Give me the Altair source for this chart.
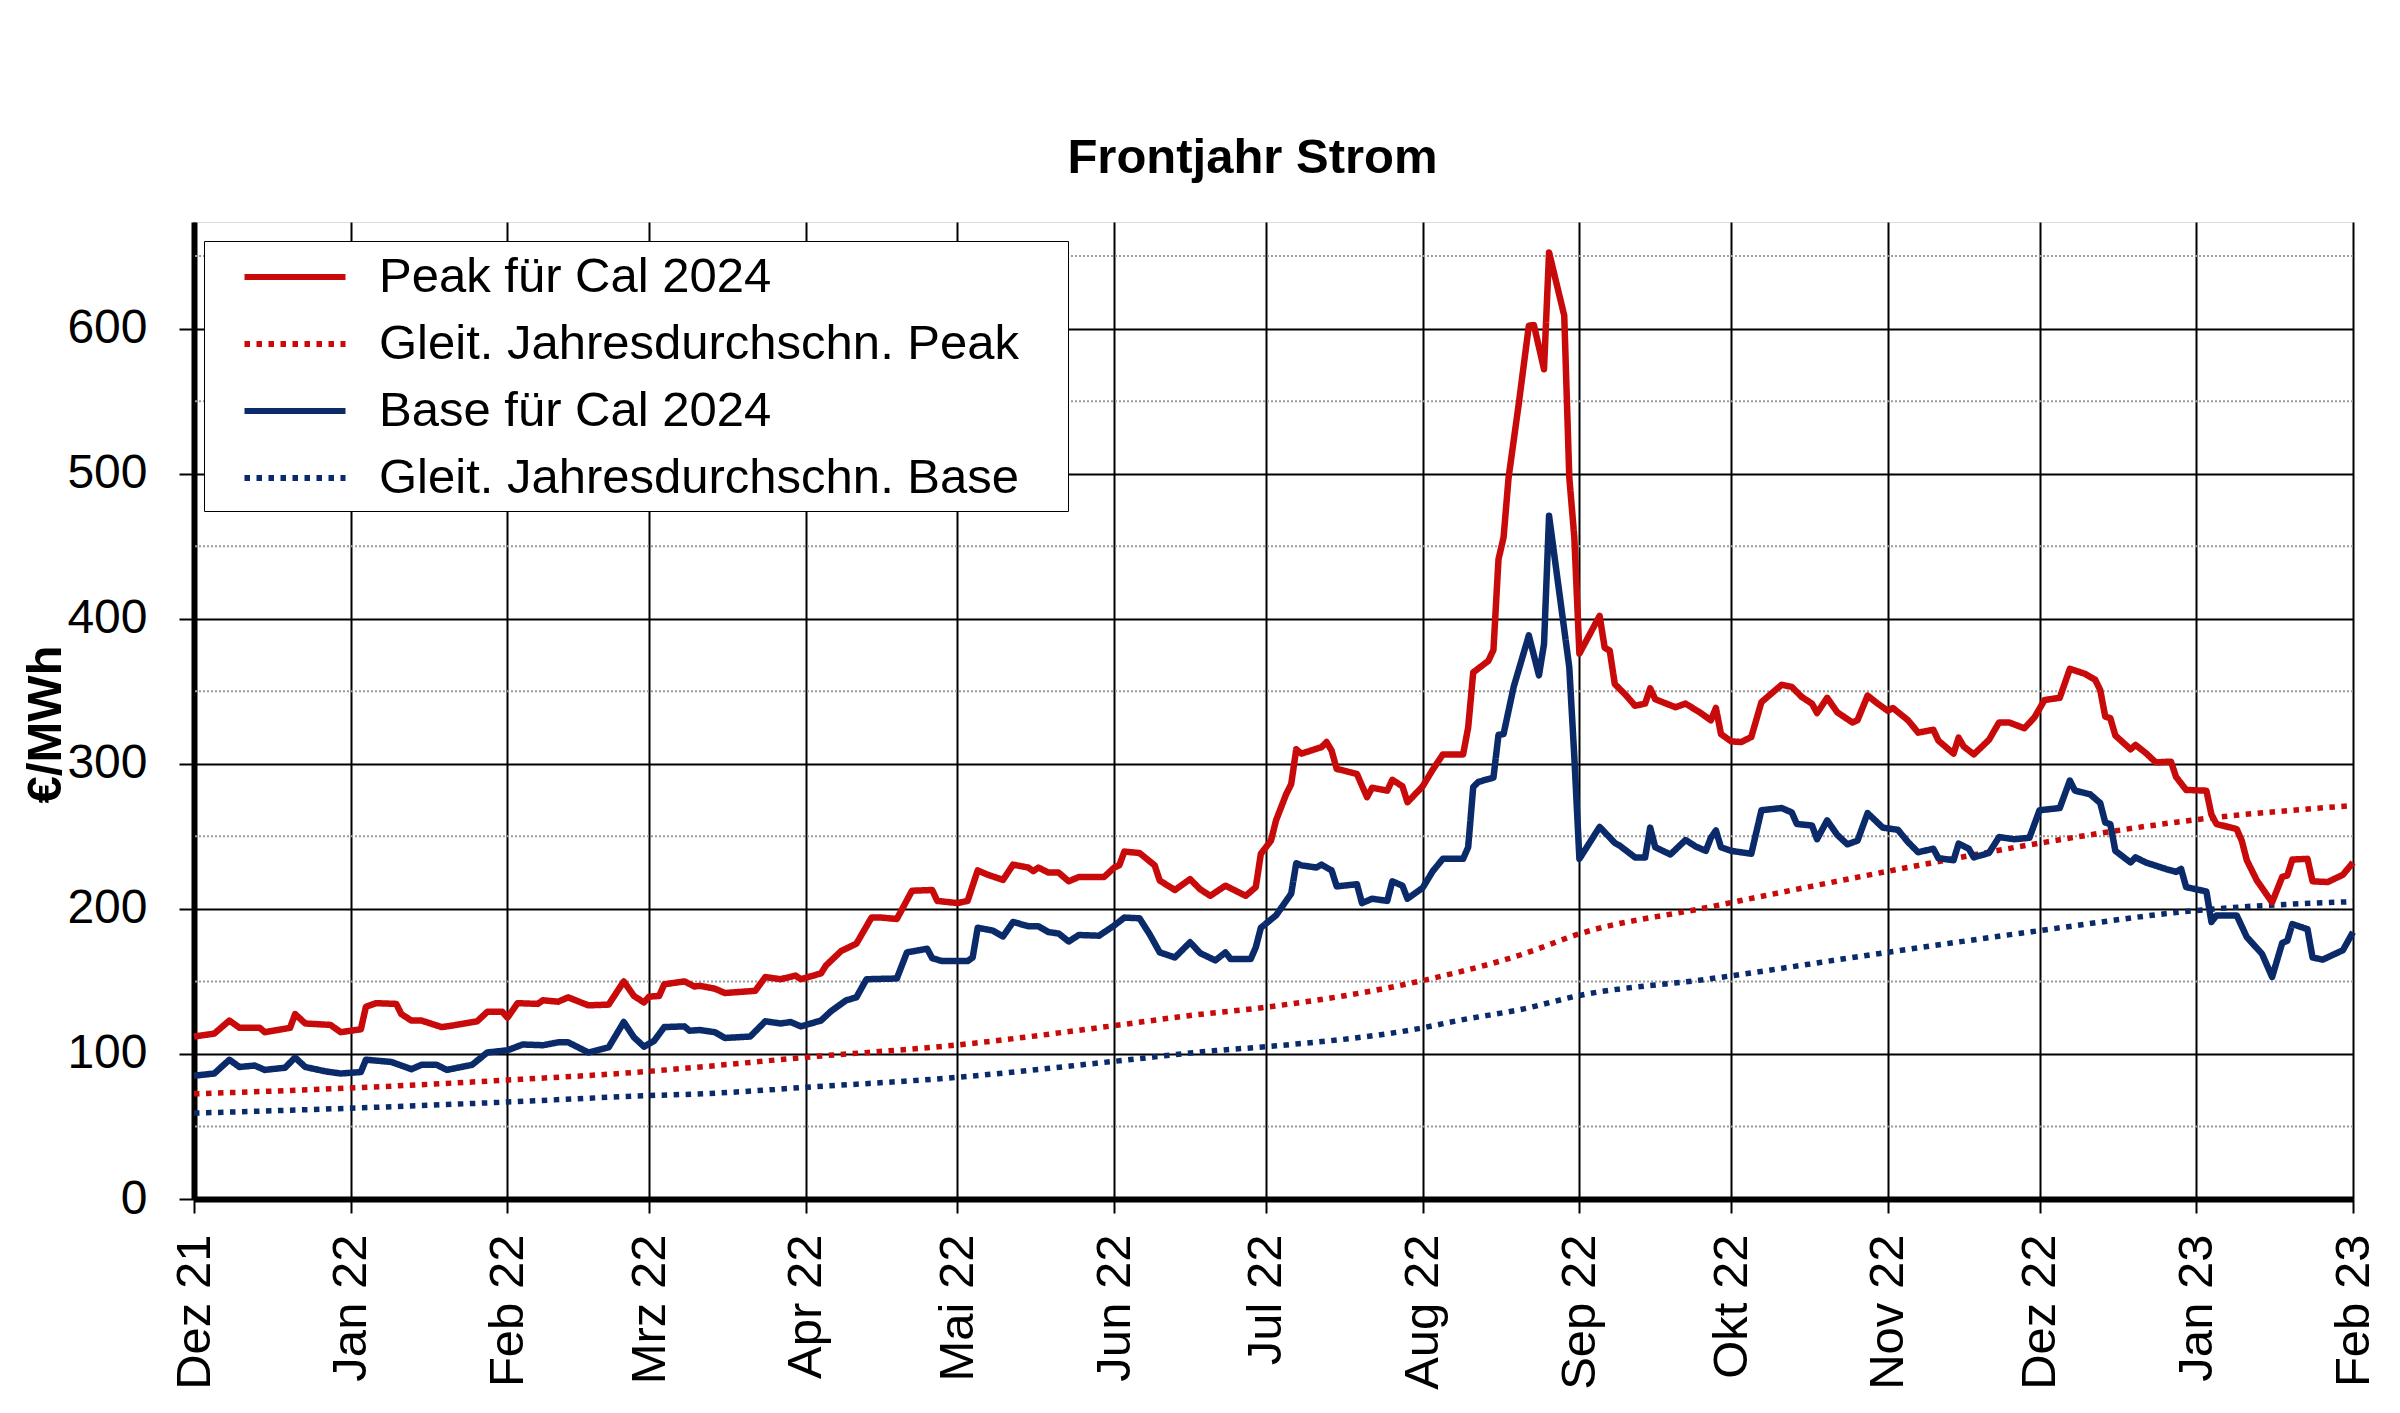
import altair as alt
import pandas as pd

# ---------------- data ----------------
# x values are days after 1 Dec 2021
START = "2021-12-01"

peak_day = [0, 4, 7, 9, 13, 14, 19, 20, 22, 27, 29, 33, 34, 36, 40, 41, 43, 45, 49, 51,
            56, 58, 61, 62, 64, 68, 69, 72, 74, 78, 82, 85, 87, 89, 90, 92, 93, 97, 99, 100,
            103, 105, 111, 113, 116, 119, 120, 124, 125, 128, 131, 134, 136, 139, 142, 146, 147, 151, 153, 155,
            157, 160, 162, 165, 166, 167, 169, 171, 173, 175, 180, 182, 183, 184, 187, 190, 191, 194, 197, 199,
            201, 204, 206, 208, 210, 211, 213, 214, 216, 217, 218, 219, 223, 224, 225, 226, 230, 232, 233, 236,
            237, 239, 240, 243, 245, 247, 251, 252, 253, 256, 257, 258, 259, 260, 262, 264, 265, 267, 268, 271,
            272, 273, 274, 278, 279, 280, 281, 283, 285, 287, 288, 289, 293, 295, 298, 300, 301, 302, 304, 306,
            308, 310, 314, 316, 318, 320, 321, 323, 325, 328, 329, 331, 333, 335, 336, 339, 341, 344, 345, 348,
            349, 350, 352, 355, 357, 359, 362, 364, 366, 369, 371, 374, 376, 377, 378, 379, 380, 383, 384, 386,
            388, 391, 392, 394, 398, 399, 400, 404, 405, 406, 408, 411, 413, 414, 415, 418, 419, 422, 425, 427]
peak_val = [112, 114, 123, 118, 118, 115, 118, 127.5, 121, 120, 115, 117, 132.5, 135, 134.5, 127.5, 123, 123, 118.5, 119.5,
            122.5, 129, 129, 125, 135, 134.5, 137, 136, 139, 133.5, 134, 150, 140, 135.5, 139.5, 140, 148, 150, 146.5, 147,
            145, 142, 143.5, 153, 151.5, 154, 151.5, 155.5, 161, 171, 176, 194, 194, 193, 212.5, 213, 205.5, 204, 205.5, 226.5,
            223.5, 220, 230.5, 228.5, 226, 228.5, 225, 225, 219, 222, 222, 228.5, 230, 239.5, 238.5, 230, 219.5, 213, 220.5, 213.5,
            209, 216, 212.5, 209, 215, 238, 247, 261, 279, 286, 310, 307, 311.5, 315, 309, 296.5, 293, 277, 283.5, 281.5,
            289, 284.5, 273.5, 284.5, 296, 306.5, 306.5, 325, 363, 371, 378.5, 441, 456, 497.5, 548, 602, 602.5, 572, 652.5, 609,
            497.5, 456, 376, 402, 380, 378, 355, 348, 340, 341.5, 352, 344.5, 339, 341.5, 335, 330, 338.5, 320.5, 315.5, 315,
            318.5, 342.5, 354.5, 353, 346, 341.5, 335, 345.5, 335.5, 328.5, 330, 347, 341.5, 336.5, 338.5, 330, 321.5, 323.5, 316, 307,
            318, 312, 306.5, 316.5, 328.5, 328.5, 324.5, 332, 344, 345.5, 365.5, 362, 358, 351, 332.5, 331.5, 319.5, 310, 313, 307.5,
            301, 301.5, 291, 282, 281.5, 265, 258.5, 255, 247, 233.5, 219.5, 204.5, 222, 223, 234, 234.5, 219, 218.5, 223.5, 232]

base_day = [0, 4, 7, 9, 12, 14, 18, 20, 22, 26, 29, 33, 34, 39, 43, 45, 48, 50, 55, 58,
            62, 65, 69, 72, 74, 78, 82, 85, 87, 89, 91, 93, 97, 98, 100, 103, 105, 110, 113, 116,
            118, 120, 124, 126, 129, 131, 133, 139, 141, 145, 146, 148, 153, 154, 155, 158, 160, 162, 165, 167,
            169, 171, 173, 175, 179, 182, 184, 187, 189, 191, 194, 197, 199, 202, 204, 205, 209, 210, 211, 214,
            217, 218, 219, 222, 223, 225, 226, 230, 231, 233, 236, 237, 239, 240, 243, 245, 247, 251, 252, 253,
            254, 257, 258, 259, 261, 264, 266, 267, 268, 272, 273, 274, 278, 281, 282, 285, 287, 288, 289, 292,
            295, 297, 299, 300, 301, 302, 304, 308, 310, 314, 316, 317, 320, 321, 323, 325, 327, 329, 331, 334,
            337, 339, 341, 344, 345, 348, 349, 351, 352, 355, 357, 360, 363, 365, 369, 371, 372, 375, 377, 378,
            379, 380, 383, 384, 386, 390, 392, 393, 394, 398, 399, 400, 404, 406, 409, 411, 413, 414, 415, 418,
            419, 421, 425, 427]
base_val = [85, 86.5, 96, 91, 92, 89, 90.5, 97.5, 91, 88, 86.5, 87.5, 96, 94.5, 89.5, 92.5, 92.5, 89, 92.5, 101,
            102.5, 106.5, 106, 108, 108, 101, 104.5, 122, 111.5, 105, 109, 118.5, 119, 116, 116.5, 115, 111, 112, 122.5, 121,
            122, 119, 123, 129.5, 137, 139, 151.5, 152, 170, 172.5, 166, 164, 164, 166.5, 187, 185, 181, 191, 188, 188,
            184, 183, 177.5, 182, 181.5, 188.5, 194, 193.5, 182.5, 170, 166.5, 177, 169.5, 164.5, 170, 165.5, 165.5, 173.5, 187, 195.5,
            210.5, 231.5, 230, 228.5, 230.5, 226.5, 215.5, 217, 204, 207, 205.5, 219, 216, 207, 214.5, 226, 234.5, 234.5, 242.5, 284,
            287.5, 290.5, 320, 320.5, 353, 388.5, 361, 382.5, 471, 366.5, 304.5, 234.5, 256.5, 245.5, 243.5, 235.5, 235.5, 256, 242.5, 237.5,
            247.5, 243, 240, 249, 254, 242.5, 240, 238, 268, 269.5, 266.5, 258.5, 257.5, 248, 261, 251, 244.5, 247, 266, 256,
            254.5, 246, 239, 241.5, 235, 233.5, 245, 241.5, 235.5, 238.5, 249.5, 248, 249, 268, 269.5, 288.5, 281.5, 279, 273, 259.5,
            258.5, 240, 232, 235.5, 232, 227.5, 225.5, 227.5, 215, 212, 191, 195.5, 195.5, 180.5, 169, 153, 176.5, 178, 189.5, 186,
            166.5, 165, 171.5, 184]

ma_peak_day = [0, 31, 62, 90, 101, 121, 151, 182, 197, 212, 243, 263, 274, 299, 335, 365, 396, 427]
ma_peak_val = [72.5, 76.5, 82, 88, 91.3, 97.7, 106.2, 119.5, 126.5, 132.2, 150.6, 169, 182.8, 200.8, 225.9, 245.3, 261.5, 271.2]

ma_base_day = [0, 31, 61, 90, 101, 121, 151, 182, 202, 212, 243, 250, 263, 274, 299, 335, 365, 396, 427]
ma_base_val = [59.2, 62.6, 66.7, 71.3, 72.6, 77, 83.9, 94.9, 102.3, 105, 118, 123, 131.1, 140.3, 151.4, 170.1, 185, 198.9, 205]

series_names = ["Peak für Cal 2024", "Gleit. Jahresdurchschn. Peak",
                "Base für Cal 2024", "Gleit. Jahresdurchschn. Base"]
series_colors = ["#C80A0A", "#C80A0A", "#0A2A6A", "#0A2A6A"]
series_dash = [[1, 0], [5.5, 6.5], [1, 0], [5.5, 6.5]]

month_ticks = [(2021, 12), (2022, 1), (2022, 2), (2022, 3), (2022, 4), (2022, 5), (2022, 6), (2022, 7),
               (2022, 8), (2022, 9), (2022, 10), (2022, 11), (2022, 12), (2023, 1), (2023, 2)]
month_names = ["Jan", "Feb", "Mrz", "Apr", "Mai", "Jun", "Jul", "Aug", "Sep", "Okt", "Nov", "Dez"]

y_major = [0, 100, 200, 300, 400, 500, 600]
y_minor = [50, 150, 250, 350, 450, 550, 650]
y_max = 673.5

# ---------------- tables ----------------
start = pd.Timestamp(START)


def frame(days, values, name):
    return pd.DataFrame({
        "date": [(start + pd.Timedelta(days=d)).strftime("%Y-%m-%dT00:00:00") for d in days],
        "value": values,
        "series": name,
    })


solid_df = pd.concat([frame(peak_day, peak_val, series_names[0]),
                      frame(base_day, base_val, series_names[2])], ignore_index=True)
ma_df = pd.concat([frame(ma_peak_day, ma_peak_val, series_names[1]),
                   frame(ma_base_day, ma_base_val, series_names[3])], ignore_index=True)
minor_df = pd.DataFrame({"v": y_minor})

FONT = "Liberation Sans"

tick_dt = [alt.DateTime(year=y, month=m, date=1) for y, m in month_ticks]
label_expr = ("[" + ",".join("'%s'" % m for m in month_names) + "][month(datum.value)]"
              " + ' ' + timeFormat(datum.value, '%y')")

x_scale = alt.Scale(domain=[tick_dt[0], tick_dt[-1]])
y_scale = alt.Scale(domain=[0, y_max], nice=False, zero=True)

x_axis = alt.Axis(values=tick_dt, labelExpr=label_expr, title=None,
                  grid=True, gridColor="black", gridWidth=2, gridOpacity=1,
                  tickSize=14, tickColor="black", tickWidth=2,
                  labelAngle=270, labelAlign="right", labelBaseline="middle",
                  labelPadding=21, labelFont=FONT, labelFontSize=49, labelColor="black",
                  labelFlush=False, labelOverlap=False,
                  domain=True, domainColor="black", domainWidth=6)

y_axis = alt.Axis(values=y_major, format="d", title="€/MWh",
                  grid=True, gridColor="black", gridWidth=2, gridOpacity=1,
                  tickSize=15, tickColor="black", tickWidth=2,
                  labelPadding=32, labelFont=FONT, labelFontSize=48, labelColor="black",
                  labelFlush=False, labelOverlap=False,
                  domain=True, domainColor="black", domainWidth=6,
                  titleFont=FONT, titleFontSize=49, titleFontWeight="bold", titleColor="black",
                  titleAngle=270, titleX=-134, titleY=502, titleBaseline="alphabetic",
                  titleAlign="center")

legend = alt.Legend(title=None, orient="none", legendX=10, legendY=19,
                    padding=8, strokeColor="black", fillColor="white",
                    labelFont=FONT, labelFontSize=49, labelColor="black", labelLimit=3000,
                    labelOffset=111, labelBaseline="middle", rowPadding=14,
                    symbolType="M0.18,0H4.22", symbolSize=2500, symbolStrokeWidth=6,
                    labelExpr="datum.label + '\u00a0\u00a0\u00a0\u200b'")

color = alt.Color("series:N", scale=alt.Scale(domain=series_names, range=series_colors), legend=legend)
dash = alt.StrokeDash("series:N", scale=alt.Scale(domain=series_names, range=series_dash), legend=legend)

minor = alt.Chart(minor_df).mark_rule(color="#9a9a9a", strokeWidth=2, strokeDash=[2, 2]).encode(
    y=alt.Y("v:Q", scale=y_scale, axis=y_axis)
)

ma_lines = alt.Chart(ma_df).mark_line(interpolate="monotone", strokeCap="butt", strokeWidth=5.5).encode(
    x=alt.X("date:T", scale=x_scale, axis=x_axis),
    y=alt.Y("value:Q", scale=y_scale, axis=y_axis),
    color=color, strokeDash=dash,
)

solid_lines = alt.Chart(solid_df).mark_line(strokeJoin="round", strokeWidth=6.5).encode(
    x=alt.X("date:T", scale=x_scale, axis=x_axis),
    y=alt.Y("value:Q", scale=y_scale, axis=y_axis),
    color=color, strokeDash=dash,
)

chart = alt.layer(minor, ma_lines, solid_lines).properties(
    width=2159, height=977,
    autosize=alt.AutoSizeParams(type="none"),
    padding={"left": 186, "top": 214, "right": 39, "bottom": 206},
    title=alt.Title("Frontjahr Strom", font=FONT, fontSize=49, fontWeight="bold", color="black",
                    anchor="middle", frame="group", baseline="alphabetic", offset=0, dx=-21),
).configure_view(stroke="black", strokeWidth=5).configure(background="white")

chart.save("out.html", embed_options={"renderer": "svg", "actions": False})
